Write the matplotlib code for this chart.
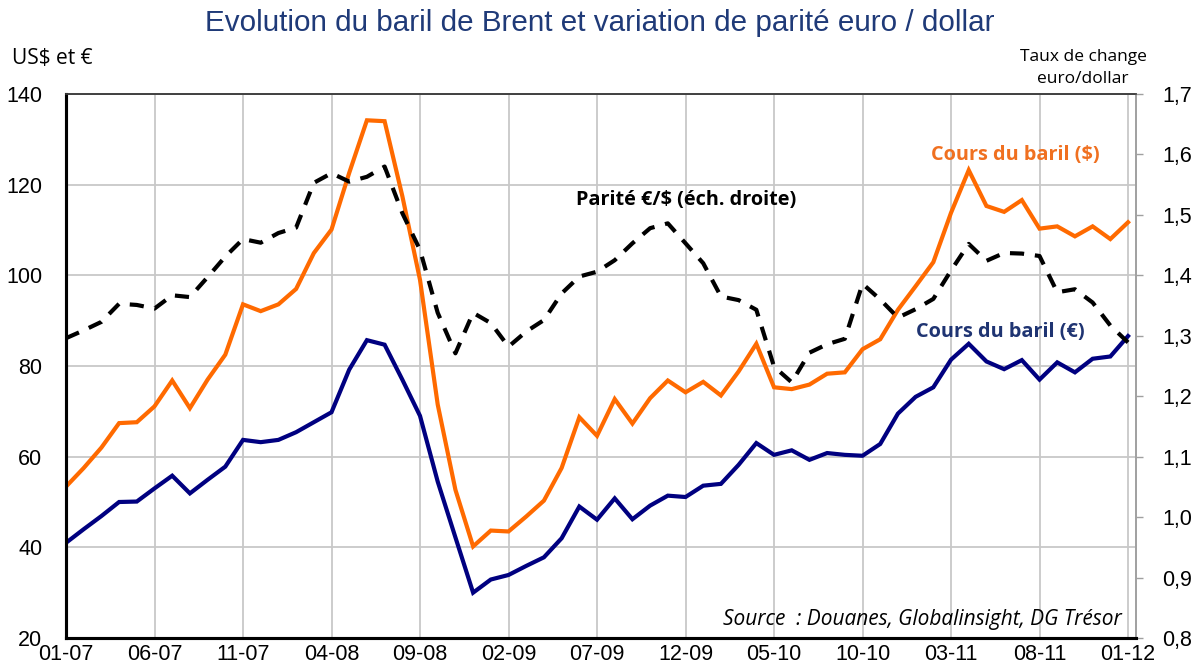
import matplotlib
matplotlib.use("Agg")
import matplotlib.pyplot as plt
from matplotlib.ticker import FuncFormatter
import numpy as np

# monthly data 01-07 .. 01-12
tick_labels = ["01-07", "06-07", "11-07", "04-08", "09-08", "02-09", "07-09",
               "12-09", "05-10", "10-10", "03-11", "08-11", "01-12"]

baril_usd = [53.4, 57.5, 62.0, 67.4, 67.6, 71.1, 76.8, 70.7, 77.0, 82.5,
             93.6, 92.1, 93.6, 97.0, 104.9, 110.1, 122.6, 134.2, 134.0, 117.5,
             99.0, 71.5, 52.7, 40.2, 43.7, 43.5, 46.8, 50.3, 57.5, 68.7,
             64.6, 72.7, 67.3, 72.9, 76.8, 74.2, 76.5, 73.5, 78.8, 84.9,
             75.3, 74.9, 75.9, 78.3, 78.6, 83.7, 85.9, 92.4, 97.6, 102.9,
             113.8, 123.2, 115.3, 114.0, 116.6, 110.3, 110.8, 108.6, 110.8, 108.0,
             111.7]

baril_eur = [41.0, 44.0, 46.9, 50.0, 50.1, 53.0, 55.8, 51.9, 54.9, 57.8,
             63.7, 63.2, 63.7, 65.4, 67.6, 69.8, 79.2, 85.7, 84.7, 77.0,
             69.0, 54.5, 42.2, 30.0, 32.9, 33.9, 35.9, 37.8, 42.0, 49.0,
             46.1, 50.8, 46.2, 49.2, 51.4, 51.1, 53.6, 54.0, 58.2, 63.0,
             60.4, 61.4, 59.3, 60.8, 60.4, 60.2, 62.8, 69.5, 73.2, 75.3,
             81.4, 84.9, 81.0, 79.3, 81.3, 77.0, 80.8, 78.6, 81.6, 82.1,
             86.6]

parite = [1.296, 1.309, 1.323, 1.353, 1.351, 1.345, 1.367, 1.364, 1.397, 1.431,
          1.460, 1.454, 1.470, 1.479, 1.553, 1.569, 1.555, 1.563, 1.580, 1.503,
          1.442, 1.338, 1.271, 1.338, 1.321, 1.282, 1.307, 1.326, 1.370, 1.398,
          1.406, 1.425, 1.453, 1.478, 1.486, 1.453, 1.420, 1.365, 1.359, 1.343,
          1.249, 1.223, 1.272, 1.286, 1.295, 1.386, 1.360, 1.330, 1.344, 1.361,
          1.408, 1.452, 1.424, 1.437, 1.436, 1.432, 1.372, 1.377, 1.355, 1.317,
          1.289]

months = np.arange(len(baril_usd))

plt.rcParams["font.family"] = ["Liberation Sans", "DejaVu Sans"]
calibri_like = ["Open Sans", "DejaVu Sans"]

fig = plt.figure(figsize=(11.99, 6.65), dpi=100)
ax = fig.add_axes([66/1199, 27/665, 1070/1199, 544/665])
ax2 = ax.twinx()

ax.plot(months, baril_usd, color="#FF6A00", lw=3, solid_joinstyle="miter", zorder=3)
ax.plot(months, baril_eur, color="#000080", lw=3, solid_joinstyle="miter", zorder=3)
ax2.plot(months, parite, color="black", lw=3, dashes=(3.4, 2.6), zorder=3)

ax.set_xlim(0, 60.45)
ax.set_ylim(20, 140)
ax2.set_ylim(0.8, 1.7)
ax.set_yticks(np.arange(20, 141, 20))
ax2.set_yticks(np.arange(0.8, 1.71, 0.1))
ax2.yaxis.set_major_formatter(FuncFormatter(lambda v, p: f"{v:.1f}".replace(".", ",")))
ax.set_xticks(np.arange(0, 61, 5))
ax.set_xticklabels(tick_labels)

ax.grid(True, color="#C8C8C8", lw=1.3)
ax.set_axisbelow(True)
ax.tick_params(axis="x", length=0, pad=4, labelsize=15.5)
ax.tick_params(axis="y", length=0, pad=17, labelsize=15.5)
ax2.tick_params(axis="y", length=5, width=1, color="#A0A0A0", pad=14, labelsize=15.5)

for a in (ax, ax2):
    a.spines["left"].set_linewidth(2.2)
    a.spines["left"].set_color("black")
    a.spines["bottom"].set_linewidth(2.2)
    a.spines["bottom"].set_color("black")
    a.spines["top"].set_linewidth(1.2)
    a.spines["top"].set_color("#404040")
    a.spines["right"].set_linewidth(1.2)
    a.spines["right"].set_color("#A0A0A0")


def ftext(x, y, s, **kw):
    # place text using pixel coordinates of the 1199x665 picture
    fig.text(x/1199, 1 - y/665, s, **kw)


ftext(600, 23, "Evolution du baril de Brent et variation de parité euro / dollar",
      ha="center", va="center", fontsize=21.3, color="#1F3A78")
ftext(12, 58, "US$ et €", ha="left", va="center", fontsize=15, family=calibri_like)
ftext(1083, 68, "Taux de change\neuro/dollar", ha="center", va="center",
      fontsize=12.5, family=calibri_like, linespacing=1.45)

ftext(686, 200, "Parité €/$ (éch. droite)", ha="center", va="center", fontsize=14.3,
      fontweight="bold", color="black", family=calibri_like)
ftext(1015, 155, "Cours du baril ($)", ha="center", va="center", fontsize=14.3,
      fontweight="bold", color="#F07020", family=calibri_like)
ftext(1000, 332, "Cours du baril (€)", ha="center", va="center", fontsize=14.3,
      fontweight="bold", color="#1F3472", family=calibri_like)
ftext(1122, 620, "Source  : Douanes, Globalinsight, DG Trésor", ha="right", va="center",
      fontsize=15, style="italic", color="black", family=calibri_like)

fig.savefig("out.png", dpi=100)
